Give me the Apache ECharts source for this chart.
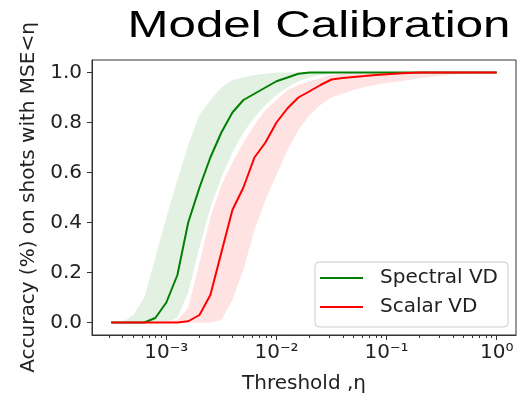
<!DOCTYPE html>
<html>
<head>
<meta charset="utf-8">
<script src="https://cdn.jsdelivr.net/npm/echarts@6/dist/echarts.min.js"></script>
<style>
html,body{margin:0;padding:0;background:#fff;}
#chart{width:526px;height:399px;}
</style>
</head>
<body>
<div id="chart"></div>
<script>
// ---- data ----
const titleText = 'Model Calibration';
const xAxisName = 'Threshold ,\u03b7';
const yAxisName = 'Accuracy (%) on shots with MSE<\u03b7';
const seriesNames = ['Spectral VD', 'Scalar VD'];

const thresholds = [0.000316, 0.000398, 0.000501, 0.000631, 0.000794, 0.001, 0.00126, 0.00158, 0.002, 0.00251,
  0.00316, 0.00398, 0.00501, 0.00631, 0.00794, 0.01, 0.0126, 0.0158, 0.02, 0.0251,
  0.0316, 0.0398, 0.0501, 0.0631, 0.0794, 0.1, 0.126, 0.158, 0.2, 0.251,
  0.316, 0.398, 0.501, 0.631, 0.794, 1.0];

const spectralMean = [0, 0, 0, 0, 0.018, 0.08, 0.19, 0.40, 0.54, 0.66,
  0.76, 0.84, 0.89, 0.915, 0.94, 0.965, 0.98, 0.995, 1, 1,
  1, 1, 1, 1, 1, 1, 1, 1, 1, 1,
  1, 1, 1, 1, 1, 1];
const spectralHi = [0, 0, 0.03, 0.10, 0.26, 0.42, 0.57, 0.71, 0.83, 0.89,
  0.94, 0.97, 0.98, 0.99, 0.995, 1, 1, 1, 1, 1,
  1, 1, 1, 1, 1, 1, 1, 1, 1, 1,
  1, 1, 1, 1, 1, 1];
const spectralLo = [0, 0, 0, 0, 0, 0, 0.02, 0.12, 0.30, 0.46,
  0.58, 0.68, 0.76, 0.82, 0.87, 0.91, 0.94, 0.965, 0.98, 0.99,
  0.995, 1, 1, 1, 1, 1, 1, 1, 1, 1,
  1, 1, 1, 1, 1, 1];

const scalarMean = [0, 0, 0, 0, 0, 0, 0, 0.005, 0.03, 0.11,
  0.28, 0.45, 0.54, 0.66, 0.72, 0.80, 0.857, 0.90, 0.925, 0.95,
  0.972, 0.978, 0.982, 0.986, 0.99, 0.993, 0.996, 0.998, 1, 1,
  1, 1, 1, 1, 1, 1];
const scalarHi = [0, 0, 0, 0, 0, 0.005, 0.01, 0.06, 0.24, 0.42,
  0.55, 0.64, 0.72, 0.79, 0.85, 0.89, 0.93, 0.95, 0.965, 0.978,
  0.99, 0.995, 1, 1, 1, 1, 1, 1, 1, 1,
  1, 1, 1, 1, 1, 1];
const scalarLo = [0, 0, 0, 0, 0, 0, 0, 0, 0, 0,
  0.01, 0.09, 0.21, 0.37, 0.49, 0.59, 0.69, 0.77, 0.83, 0.87,
  0.90, 0.915, 0.93, 0.942, 0.95, 0.958, 0.963, 0.97, 0.977, 0.982,
  0.987, 0.991, 0.995, 0.998, 1, 1];

const xTickExponents = [-3, -2, -1, 0];
const xTickLabels = ['10\u207b\u00b3', '10\u207b\u00b2', '10\u207b\u00b9', '10\u2070'];
const yTickValues = [0, 0.2, 0.4, 0.6, 0.8, 1.0];
const yTickLabels = ['0.0', '0.2', '0.4', '0.6', '0.8', '1.0'];

// ---- build ----
const lx = thresholds.map(t => Math.log10(t));
const xMin = -3.675, xMax = 0.175;
const minorTicks = [];
for (let n = -4; n <= -1; n++) {
  for (let k = 2; k <= 9; k++) {
    const v = Math.log10(k) + n;
    if (v >= xMin && v <= xMax) minorTicks.push(v);
  }
}
const pairs = (arr) => arr.map((v, i) => [lx[i], v]);
const bandData = (lo, hi) => lo.map((v, i) => [lx[i], v, hi[i]]);

const FONT = 'DejaVu Sans';
const green = '#008000';
const red = '#ff0000';

function bandSeries(name, data, fill) {
  return {
    name: name, type: 'custom', silent: true, z: 1,
    data: data,
    encode: {x: 0, y: [1, 2]},
    renderItem: function (params, api) {
      if (params.dataIndex !== 0) return null;
      const upper = data.map(d => api.coord([d[0], d[2]]));
      const lower = data.map(d => api.coord([d[0], d[1]])).reverse();
      return {
        type: 'polygon',
        shape: {points: upper.concat(lower)},
        style: {fill: fill, stroke: null}
      };
    }
  };
}

const chart = echarts.init(document.getElementById('chart'), null, {renderer: 'canvas'});

chart.setOption({
  animation: false,
  backgroundColor: '#ffffff',
  graphic: [{
    type: 'text',
    x: 319, y: 27,
    scaleX: 1.33, scaleY: 1,
    style: {
      text: titleText,
      x: 0, y: 0,
      font: '37px "Liberation Sans", Arial, sans-serif',
      fill: '#000',
      align: 'center', verticalAlign: 'middle',
      textAlign: 'center', textVerticalAlign: 'middle'
    }
  }],
  grid: {
    left: 92, right: 10, top: 60, bottom: 63,
    show: true, borderColor: '#333', borderWidth: 1, backgroundColor: 'transparent'
  },
  legend: {
    data: [
      {name: seriesNames[0], icon: 'rect'},
      {name: seriesNames[1], icon: 'rect'}
    ],
    orient: 'vertical',
    left: 315, top: 262,
    itemWidth: 43, itemHeight: 2,
    itemGap: 5,
    padding: [4, 10, 8, 5],
    borderColor: '#cccccc', borderWidth: 1, borderRadius: 4,
    backgroundColor: 'rgba(255,255,255,0.8)',
    textStyle: {fontFamily: FONT, fontSize: 20, color: '#222', lineHeight: 24, padding: [0, 0, 0, 12]}
  },
  xAxis: [{
    type: 'value', min: xMin, max: xMax,
    name: xAxisName, nameLocation: 'middle', nameGap: 39,
    nameTextStyle: {fontFamily: FONT, fontSize: 20, color: '#222'},
    axisLine: {show: true, onZero: false, lineStyle: {color: '#333', width: 1}},
    axisTick: {show: true, inside: false, length: 5, customValues: xTickExponents, lineStyle: {color: '#333'}},
    axisLabel: {
      show: true, margin: 8, customValues: xTickExponents,
      fontFamily: FONT, fontSize: 20, color: '#222',
      formatter: (v) => {
        const i = xTickExponents.indexOf(Math.round(v));
        return i >= 0 ? xTickLabels[i] : '';
      }
    },
    splitLine: {show: false}
  }, {
    type: 'value', min: xMin, max: xMax, position: 'bottom',
    axisLine: {show: false, onZero: false},
    axisTick: {show: true, inside: false, length: 3, customValues: minorTicks, lineStyle: {color: '#333'}},
    axisLabel: {show: false},
    splitLine: {show: false}
  }],
  yAxis: {
    type: 'value', min: -0.05, max: 1.05,
    name: yAxisName, nameLocation: 'middle', nameGap: 45,
    nameTextStyle: {fontFamily: FONT, fontSize: 20, color: '#222'},
    axisLine: {show: true, onZero: false, lineStyle: {color: '#333', width: 1}},
    axisTick: {show: true, inside: false, length: 5, customValues: yTickValues, lineStyle: {color: '#333'}},
    axisLabel: {
      show: true, margin: 10, customValues: yTickValues,
      fontFamily: FONT, fontSize: 20, color: '#222',
      formatter: (v) => {
        const i = yTickValues.findIndex(t => Math.abs(t - v) < 1e-6);
        return i >= 0 ? yTickLabels[i] : '';
      }
    },
    splitLine: {show: false}
  },
  series: [
    bandSeries('spectral_band', bandData(spectralLo, spectralHi), 'rgba(0,128,0,0.11)'),
    bandSeries('scalar_band', bandData(scalarLo, scalarHi), 'rgba(255,0,0,0.11)'),
    {
      name: seriesNames[0], type: 'line', data: pairs(spectralMean),
      symbol: 'none', showSymbol: false, z: 5,
      itemStyle: {color: green}, lineStyle: {color: green, width: 2}
    },
    {
      name: seriesNames[1], type: 'line', data: pairs(scalarMean),
      symbol: 'none', showSymbol: false, z: 5,
      itemStyle: {color: red}, lineStyle: {color: red, width: 2}
    }
  ]
});
</script>
</body>
</html>
